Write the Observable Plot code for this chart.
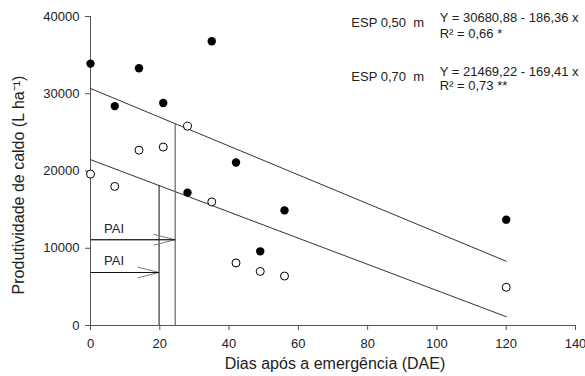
<!DOCTYPE html>
<html>
<head>
<meta charset="utf-8">
<script src="https://cdn.jsdelivr.net/npm/d3@7"></script>
<script src="https://cdn.jsdelivr.net/npm/@observablehq/plot@0.6"></script>
<style>
  html, body { margin: 0; padding: 0; background: #fff; }
</style>
</head>
<body>
<div id="chart"></div>
<script>
// ---- data ----
const days = [0, 7, 14, 21, 28, 35, 42, 49, 56, 120];
const esp050 = [33900, 28400, 33300, 28800, 17200, 36800, 21100, 9600, 14900, 13700];
const esp070 = [19600, 18000, 22700, 23100, 25800, 16000, 8100, 7000, 6400, 4950];

// fitted lines (endpoints read from the regression equations)
const fitX = [0, 120];
const fit050 = [30680.88, 8317.68];
const fit070 = [21469.22, 1140.02];

// PAI markers
const paiX = [24.45, 19.8];
const paiTop = [26124, 18115];
const paiArrowY = [11100, 6860];
const paiLabel = ["PAI", "PAI"];
const paiLabelY = [12550, 8414];
const paiLabelX = [6.8, 6.8];

const xTicks = [0, 20, 40, 60, 80, 100, 120, 140];
const yTicks = [0, 10000, 20000, 30000, 40000];

const seriesLabels = ["ESP 0,50\u00a0 m", "ESP 0,70\u00a0 m"];
const eqLabels = ["Y = 30680,88 - 186,36 x", "Y = 21469,22 - 169,41 x"];
const r2Labels = ["R² = 0,66 *", "R² = 0,73 **"];

const xTitle = "Dias após a emergência (DAE)";
const yTitle = "Produtividade de caldo (L ha⁻¹)";

// ---- tables ----
const pts050 = days.map((d, i) => ({x: d, y: esp050[i]}));
const pts070 = days.map((d, i) => ({x: d, y: esp070[i]}));
const line050 = fitX.map((x, i) => ({x, y: fit050[i]}));
const line070 = fitX.map((x, i) => ({x, y: fit070[i]}));
const pai = paiX.map((x, i) => ({x, top: paiTop[i], ay: paiArrowY[i], label: paiLabel[i], lx: paiLabelX[i], ly: paiLabelY[i]}));

const annSeries = [{x: 75.3, y: 39223, t: seriesLabels[0]}, {x: 75.3, y: 32140, t: seriesLabels[1]}];
const annEq = [{x: 100.8, y: 39870, t: eqLabels[0]}, {x: 100.8, y: 32880, t: eqLabels[1]}];
const annR2 = [{x: 100.8, y: 37780, t: r2Labels[0]}, {x: 100.8, y: 30980, t: r2Labels[1]}];

const ink = "#222";
const axisInk = "#555";

const chart = Plot.plot({
  width: 585,
  height: 376,
  marginLeft: 90,
  marginRight: 10,
  marginTop: 16,
  marginBottom: 51,
  style: {fontFamily: "'Liberation Sans', Arial, sans-serif", fontSize: "13px", color: ink, background: "#fff"},
  x: {domain: [0, 140]},
  y: {domain: [0, 40000]},
  marks: [
    Plot.axisX({ticks: xTicks, tickSize: 5, tickPadding: 8, label: null, stroke: axisInk, fill: ink, tickFormat: d => String(d)}),
    Plot.axisY({ticks: yTicks, tickSize: 5, tickPadding: 6, label: null, stroke: axisInk, fill: ink, tickFormat: d => String(d)}),
    Plot.ruleX([0], {stroke: axisInk}),
    Plot.ruleY([0], {stroke: axisInk}),
    // regression lines
    Plot.line(line050, {x: "x", y: "y", stroke: "#333", strokeWidth: 1}),
    Plot.line(line070, {x: "x", y: "y", stroke: "#333", strokeWidth: 1}),
    // PAI vertical lines
    Plot.ruleX(pai.slice(0, 1), {x: "x", y1: 0, y2: "top", stroke: "#666", strokeWidth: 1.2}),
    Plot.ruleX(pai.slice(1, 2), {x: "x", y1: 0, y2: "top", stroke: "#111", strokeWidth: 1}),
    // arrows
    Plot.arrow(pai, {x1: 0, x2: "x", y1: "ay", y2: "ay", stroke: "#777", strokeWidth: 1, headLength: 33, headAngle: 28}),
    Plot.link(pai, {x1: 0, x2: "x", y1: "ay", y2: "ay", stroke: "#111", strokeWidth: 1}),
    Plot.text(pai, {x: "lx", y: "ly", text: "label", fill: ink, fontSize: 13}),
    // points
    Plot.dot(pts070, {x: "x", y: "y", r: 4, fill: "#fff", stroke: "#000", strokeWidth: 1}),
    Plot.dot(pts050, {x: "x", y: "y", r: 4.2, fill: "#000", stroke: "none"}),
    // annotations
    Plot.text(annSeries, {x: "x", y: "y", text: "t", textAnchor: "start", fill: ink, fontSize: 13}),
    Plot.text(annEq, {x: "x", y: "y", text: "t", textAnchor: "start", fill: ink, fontSize: 13}),
    Plot.text(annR2, {x: "x", y: "y", text: "t", textAnchor: "start", fill: ink, fontSize: 13}),
    // axis titles
    Plot.text([xTitle], {frameAnchor: "bottom", textAnchor: "middle", lineAnchor: "middle", dy: 38, dx: 2, fontSize: 16, fill: ink}),
    Plot.text([yTitle], {frameAnchor: "left", textAnchor: "middle", lineAnchor: "middle", rotate: -90, dx: -72, dy: 14, fontSize: 16, fill: ink})
  ]
});
document.getElementById("chart").appendChild(chart);
</script>
</body>
</html>
